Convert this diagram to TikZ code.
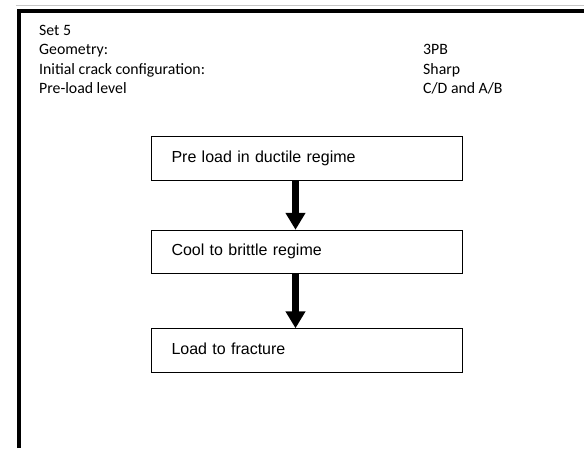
\documentclass[tikz,border=0pt]{standalone}
\usepackage{fontspec}
\setmainfont{Carlito}
\newfontfamily\boxfont{Liberation Sans}
\usetikzlibrary{arrows.meta}
\tikzset{
  hdr/.style={anchor=base west, inner sep=0pt, font=\fontsize{15.8}{19}\selectfont},
  stepbox/.style={draw=black, line width=0.9pt, minimum height=43.5pt, inner xsep=20pt,
    text width=270.5pt, align=left, font=\boxfont\fontsize{16}{19.2}\selectfont},
  fatarrow/.style={line width=7pt, -{Triangle[length=17pt,width=19pt]}}
}
\begin{document}
\begin{tikzpicture}[x=1pt,y=-1pt]
\useasboundingbox (0,0) rectangle (584,448);
% frame
\draw[line width=0.8pt, black!22] (16,5.5) -- (584,5.5);
\draw[line width=4.2pt] (19,448) -- (19,11) -- (584,11);
% header
\node[hdr] (h1) at (39,35.5) {Set 5};
\node[hdr] (h2) at (39,54.8) {Geometry:};
\node[hdr] (h3) at (39,74.1) {Initial crack configuration:};
\node[hdr] (h4) at (39,93.4) {Pre-load level};
\node[hdr] (v2) at (423,54.8) {3PB};
\node[hdr] (v3) at (423,74.1) {Sharp};
\node[hdr] (v4) at (423,93.4) {C/D and A/B};
% boxes
\node[stepbox] (b1) at (306.75,158.5) {Pre load in ductile regime\strut};
\node[stepbox] (b2) at (306.75,252) {Cool to brittle regime\strut};
\node[stepbox] (b3) at (306.75,350.5) {Load to fracture\strut};
% arrows
\coordinate (ax) at (295.5,0);
\draw[fatarrow] (b1.south -| ax) -- (b2.north -| ax);
\draw[fatarrow] (b2.south -| ax) -- (b3.north -| ax);
\end{tikzpicture}
\end{document}
